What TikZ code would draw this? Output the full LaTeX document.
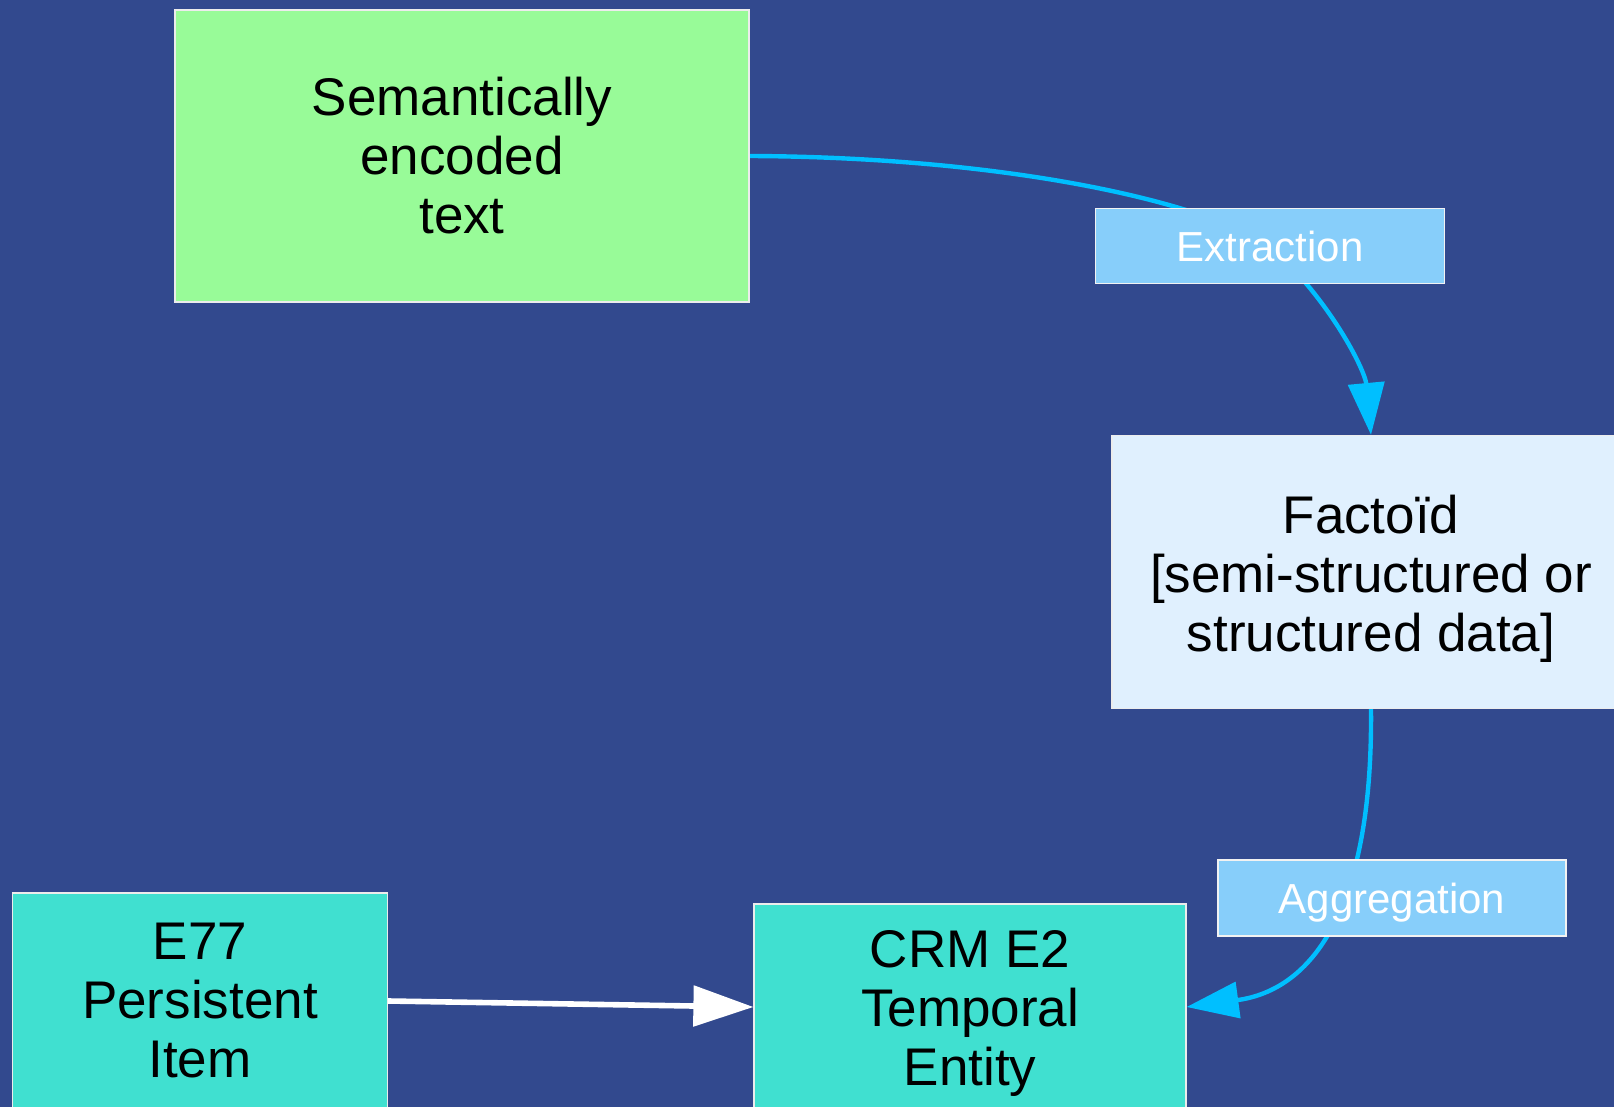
\documentclass[tikz,border=0pt]{standalone}
\usepackage{fontspec}
\setmainfont{Liberation Sans}
\usetikzlibrary{arrows.meta}
\pgfdeclarelayer{bglayer}
\pgfdeclarelayer{edgelayer}
\pgfsetlayers{bglayer,edgelayer,main}
\definecolor{bgblue}{RGB}{50,73,142}
\definecolor{palegreenc}{RGB}{152,251,152}
\definecolor{factoidblue}{RGB}{224,240,254}
\definecolor{turq}{RGB}{64,224,208}
\definecolor{lblblue}{RGB}{135,206,250}
\definecolor{arrowblue}{RGB}{0,191,255}
\begin{document}
\begin{tikzpicture}[x=0.5pt,y=-0.5pt,
  box/.style={draw=white!85!gray, line width=0.6pt, inner sep=0pt, align=center, text=black,
    font=\fontsize{26.5}{29.5}\selectfont},
  lbl/.style={draw=white!90!gray, line width=0.6pt, fill=lblblue, text=white, inner sep=0pt,
    text height=15.4pt, text depth=0pt, font=\fontsize{21}{25}\selectfont},
  flow/.style={draw=arrowblue, line width=2.2pt, -{Triangle[length=26pt,width=18pt]}},
  whiteflow/.style={draw=white, line width=2.8pt, -{Triangle[length=30pt,width=20pt]}}]
\useasboundingbox (0,0) rectangle (1614,1107);
\begin{pgfonlayer}{bglayer}
  \fill[bgblue] (0,0) rectangle (1614,1107);
\end{pgfonlayer}
\clip (0,0) rectangle (1614,1107);

\node[box, fill=palegreenc, minimum width=287pt, minimum height=146pt] (green) at (462,156)
  {Semantically\\encoded\\text};
\node[box, fill=factoidblue, minimum width=259pt, minimum height=136.5pt] (fact) at (1371,572)
  {\rule{0pt}{25.5pt}Facto\"id\\{}[semi-structured or\\structured data]};
\node[box, fill=turq, minimum width=187.5pt, minimum height=108pt] (e77) at (200,1001)
  {E77\\Persistent\\Item};
\node[box, fill=turq, minimum width=216pt, minimum height=103pt] (crm) at (970,1007)
  {\rule{0pt}{24.7pt}CRM E2\\Temporal\\Entity};
\node[lbl, minimum width=174.5pt, minimum height=37.5pt] (ext) at (1270,246) {Extraction};
\node[lbl, minimum width=174pt, minimum height=38pt] (agg) at (1392,898) {Aggregation};

\begin{pgfonlayer}{edgelayer}
  \draw[draw=arrowblue, line width=2.2pt] (green.east) .. controls (1000,157) and (1200,200) .. (ext.center);
  \draw[flow] (ext.center) .. controls (1330,300) and (1365,370) .. (fact.north);
  \draw[flow] (fact.south) .. controls (1373,910) and (1312,990) .. (crm.east);
  \draw[whiteflow] (e77.east) -- (crm.west);
\end{pgfonlayer}
\end{tikzpicture}
\end{document}
